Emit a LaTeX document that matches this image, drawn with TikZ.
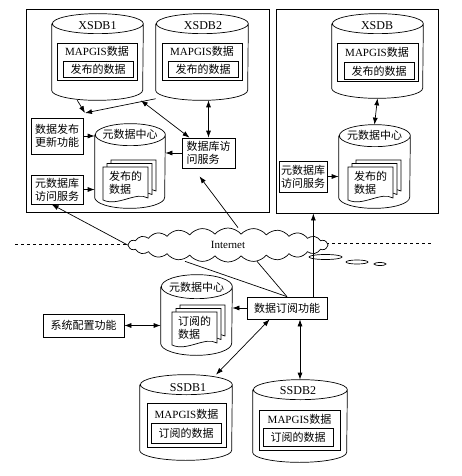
\documentclass[tikz,border=0pt]{standalone}
\usepackage{fontspec}
\setmainfont{Noto Sans CJK SC}
\newfontfamily\lat{Liberation Serif}
\usetikzlibrary{arrows.meta,shapes.symbols,calc}

\tikzset{
  txt/.style={font=\fontsize{11}{13}\selectfont, inner sep=2pt},
  box/.style={txt, draw, align=left, fill=white},
  plain/.style={draw, inner sep=0pt, fill=white},
  frame/.style={draw, line width=0.9pt, inner sep=0pt},
  dbname/.style={font=\lat\fontsize{12}{14}\selectfont, inner sep=0pt},
  doctext/.style={txt, align=left},
}

% cylinder: name, centre x, centre y, width, height, end radius
\newcommand\dbcyl[6]{%
  \node[minimum width=#4pt, minimum height=#5pt, inner sep=0pt] (#1) at (#2,#3) {};
  \draw[fill=white] ($(#1.north west)+(0,#6)$) -- ($(#1.south west)+(0,-#6)$)
    arc[start angle=180, end angle=0, x radius=#4/2, y radius=#6]
    -- ($(#1.north east)+(0,#6)$)
    arc[start angle=0, end angle=-180, x radius=#4/2, y radius=#6]
    arc[start angle=180, end angle=0, x radius=#4/2, y radius=#6];}

% stack of three documents: top-left corner of front sheet, name, text
\newcommand\docstack[3]{%
  \foreach \d in {8,4,0}
    \draw[fill=white, shift={($(#1)+(\d,-0.875*\d)$)}]
      (0,0) -- (45,0) -- (45,31) .. controls (33,24) and (15,40) .. (0,33) -- cycle;
  \node[doctext] (#2) at ($(#1)+(22.5,16)$) {#3};}

\begin{document}
\begin{tikzpicture}[x=1pt, y=-1pt, line width=0.7pt, >={Latex[length=7pt,width=5pt]}]
  \useasboundingbox (0,0) rectangle (462,476);

  % two publishing sites
  \node[frame, minimum width=243pt, minimum height=203pt] (lframe) at (147.5,110.5) {};
  \node[frame, minimum width=162pt, minimum height=204pt] (rframe) at (357,111) {};

  % XSDB1
  \dbcyl{xsdb1}{97.5}{57}{91}{86}{10}
  \node[dbname] (xsdb1name) at (97.5,26) {XSDB1};
  \node[plain, minimum width=80pt, minimum height=37pt] (map1) at (97,61.5) {};
  \node[txt] (map1name) at (97,51) {{\lat MAPGIS}数据};
  \node[box, minimum width=70pt, minimum height=16pt] (pub1) at (98,69) {发布的数据};

  % XSDB2
  \dbcyl{xsdb2}{202}{57}{92}{86}{10}
  \node[dbname] (xsdb2name) at (203,26) {XSDB2};
  \node[plain, minimum width=80pt, minimum height=37pt] (map2) at (202,61.5) {};
  \node[txt] (map2name) at (202,51) {{\lat MAPGIS}数据};
  \node[box, minimum width=70pt, minimum height=16pt] (pub2) at (203,69) {发布的数据};

  % XSDB
  \dbcyl{xsdb}{377.5}{56}{91}{84}{10}
  \node[dbname] (xsdbname) at (377,26) {XSDB};
  \node[plain, minimum width=81pt, minimum height=38pt] (map3) at (377.5,62) {};
  \node[txt] (map3name) at (377,52) {{\lat MAPGIS}数据};
  \node[box, minimum width=70pt, minimum height=17pt] (pub3) at (379,71) {发布的数据};

  % left site
  \node[box, minimum width=52pt, minimum height=36pt] (upd) at (57,136) {数据发布\\更新功能};
  \node[box, minimum width=52pt, minimum height=29pt] (msvc1) at (57,189.5) {元数据库\\访问服务};
  \dbcyl{meta1}{130}{166}{70}{84}{11}
  \node[txt] (meta1name) at (130,134.5) {元数据中心};
  \coordinate (doc1pos) at (103,167);
  \docstack{doc1pos}{doc1}{发布的\\数据}
  \node[box, minimum width=53pt, minimum height=30pt] (dbsvc) at (208.5,153) {数据库访\\问服务};

  % right site
  \dbcyl{meta2}{374.5}{166.5}{71}{83}{11}
  \node[txt] (meta2name) at (374.5,135) {元数据中心};
  \coordinate (doc2pos) at (348,167);
  \docstack{doc2pos}{doc2}{发布的\\数据}
  \node[box, minimum width=48pt, minimum height=31pt] (msvc2) at (303,176.5) {元数据库\\访问服务};

  % network
  \coordinate (dashL) at (15,244);
  \coordinate (dashR) at (433,243);
  \draw[dashed] (dashL) -- (200,244);
  \draw[dashed] (260,243) -- (dashR);
  \node[cloud, draw, fill=white, cloud puffs=24, cloud puff arc=100, aspect=7,
        minimum width=200pt, minimum height=34pt, inner sep=0pt,
        font=\lat\fontsize{11}{13}\selectfont] (net) at (228,245) {Internet};
  \draw (325.5,257) ellipse [x radius=16.5, y radius=2.5];
  \draw (357,262) ellipse [x radius=11, y radius=2];
  \draw (380,264) ellipse [x radius=6, y radius=1.5];

  % subscribing site
  \dbcyl{meta3}{196.5}{315}{71}{80}{12}
  \node[txt] (meta3name) at (196.5,287) {元数据中心};
  \coordinate (doc3pos) at (172,312);
  \docstack{doc3pos}{doc3}{订阅的\\数据}
  \node[box, minimum width=81pt, minimum height=23pt] (conf) at (83.5,325.5) {系统配置功能};
  \node[box, minimum width=80pt, minimum height=22pt] (sub) at (287,308) {数据订阅功能};

  % SSDB1
  \dbcyl{ssdb1}{186}{417.5}{92}{85}{10}
  \node[dbname] (ssdb1name) at (188,388) {SSDB1};
  \node[plain, minimum width=79pt, minimum height=44pt] (map4) at (186.5,425) {};
  \node[txt] (map4name) at (186.5,414) {{\lat MAPGIS}数据};
  \node[box, minimum width=70pt, minimum height=20pt] (sub1) at (186,433) {订阅的数据};

  % SSDB2
  \dbcyl{ssdb2}{300}{421}{94}{82}{10}
  \node[dbname] (ssdb2name) at (298,391) {SSDB2};
  \node[plain, minimum width=81pt, minimum height=40pt] (map5) at (299.5,430) {};
  \node[txt] (map5name) at (299.5,419) {{\lat MAPGIS}数据};
  \node[box, minimum width=70pt, minimum height=18pt] (sub2) at (298,437) {订阅的数据};

  % connectors
  \coordinate (pubin) at (85,113);
  \draw[->] (xsdb1.245) -- (pubin);
  \draw[->] (xsdb2.222) -- (pubin);
  \draw[<->] (xsdb1.315) -- (dbsvc.141);
  \draw[<->] (dbsvc.north |- xsdb2.south) -- (dbsvc.north);
  \draw[->] (upd.east) -- (meta1.west |- upd.east);
  \draw[->] (dbsvc.west) -- (meta1.east |- dbsvc.west);
  \draw[->] (msvc1.east) -- (meta1.west |- msvc1.east);
  \draw[<->] (xsdb.south) -- (meta2.north);
  \draw[->] (msvc2.east) -- (meta2.west |- msvc2.east);
  \draw[->] (net.west) -- (msvc1.250);
  \draw[->, shorten >=10pt] ($(net.north)+(10,0)$) -- ($(dbsvc.south)+(-15,0)$);
  \draw[->] ($(sub.north east)+(-14,0)$) coordinate (subup) -- (subup |- rframe.south);
  \draw (sub.north) -- ($(net.south)+(29,-1)$);
  \draw (sub.north) -- ($(net.south)+(-43,-1)$);
  \draw[->] (sub.west) -- (meta3.east |- sub.west);
  \draw[<->] (conf.east) -- (meta3.west |- conf.east);
  \draw[<->] ($(sub.south west)+(23,0)$) -- (ssdb1.55);
  \draw[<->] (ssdb2.north |- sub.south) -- (ssdb2.north);
\end{tikzpicture}
\end{document}
